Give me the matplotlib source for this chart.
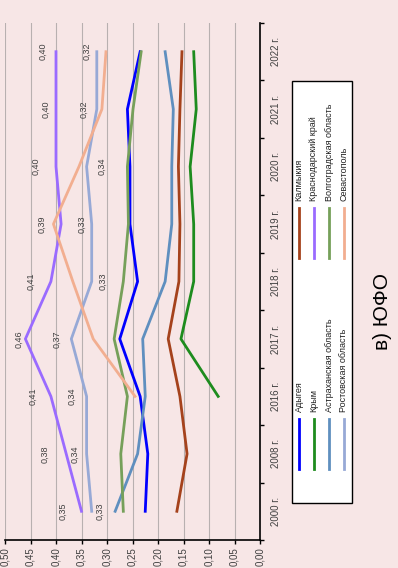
import numpy as np
import matplotlib
matplotlib.use("Agg")
import matplotlib.pyplot as plt
from matplotlib.lines import Line2D
from matplotlib.patches import Rectangle

plt.rcParams['font.family'] = ['Liberation Sans', 'DejaVu Sans']

# data (chart is drawn turned 90 degrees, years run bottom -> top)
years = ['2000 г.', '2008 г.', '2016 г.', '2017 г.', '2018 г.', '2019 г.', '2020 г.', '2021 г.', '2022 г.']
value_ticks = [0.0, 0.05, 0.10, 0.15, 0.20, 0.25, 0.30, 0.35, 0.40, 0.45, 0.50]

adygea = [0.225, 0.22, 0.235, 0.275, 0.24, 0.255, 0.255, 0.26, 0.235]
kalmykia = [0.163, 0.143, 0.157, 0.18, 0.159, 0.157, 0.16, 0.157, 0.153]
krym = [np.nan, np.nan, 0.082, 0.155, 0.13, 0.13, 0.137, 0.125, 0.13]
krasnodar = [0.35, 0.38, 0.41, 0.46, 0.41, 0.39, 0.40, 0.40, 0.40]
astrakhan = [0.284, 0.24, 0.225, 0.23, 0.186, 0.173, 0.173, 0.17, 0.186]
volgograd = [0.268, 0.273, 0.26, 0.286, 0.268, 0.258, 0.26, 0.249, 0.233]
rostov = [0.33, 0.34, 0.34, 0.37, 0.33, 0.33, 0.34, 0.32, 0.32]
sevastopol = [np.nan, np.nan, 0.245, 0.327, 0.367, 0.405, 0.355, 0.31, 0.302]

names = ['Адыгея', 'Калмыкия', 'Крым', 'Краснодарский край',
         'Астраханская область', 'Волгоградская область', 'Ростовская область', 'Севастополь']
series = [adygea, kalmykia, krym, krasnodar, astrakhan, volgograd, rostov, sevastopol]
colors = ['#0000FF', '#A5421C', '#1E8C1E', '#9A6BFF', '#5F8FBF', '#76A05A', '#97A9D6', '#F2AE90']

# label offsets in pixels (left = higher value)
krasnodar_off = [-19, -21, -18, -6, -20, -19, -20, -10, -13]
rostov_off = [8, -12, -15, -14, 11, -10, 15, -13, -10]

W, H = 398, 568
bg = '#F7E6E6'

fig = plt.figure(figsize=(W / 100, H / 100), dpi=100, facecolor=bg)
ax = fig.add_axes([5 / W, 28 / H, 255 / W, 517 / H], facecolor=bg)

pos = np.arange(len(years))
for vals, col in zip(series, colors):
    ax.plot(vals, pos, color=col, lw=2.0, solid_joinstyle='round', zorder=3)

for v, p, o in zip(krasnodar, pos, krasnodar_off):
    ax.annotate(f'{v:.2f}'.replace('.', ','), (v, p), xytext=(o, 0), textcoords='offset pixels',
                rotation=90, ha='center', va='center', fontsize=6.5, color='#404040', zorder=4)
for v, p, o in zip(rostov, pos, rostov_off):
    ax.annotate(f'{v:.2f}'.replace('.', ','), (v, p), xytext=(o, 0), textcoords='offset pixels',
                rotation=90, ha='center', va='center', fontsize=6.5, color='#404040', zorder=4)

ax.set_xlim(0.5, 0.0)
ax.set_ylim(-0.5, len(years) - 0.5)
ax.set_xticks(value_ticks)
ax.set_xticklabels([f'{t:.2f}'.replace('.', ',') for t in value_ticks], rotation=90, fontsize=7, color='#404040')
ax.grid(axis='x', color='#B8B0B0', lw=0.8, zorder=0)
ax.set_axisbelow(True)

ax.yaxis.tick_right()
ax.set_yticks(pos)
ax.set_yticklabels(years, rotation=90, va='center', fontsize=7, color='#404040')
ax.set_yticks(np.arange(-0.5, len(years), 1.0), minor=True)
ax.tick_params(axis='y', which='major', length=0, pad=8)
ax.tick_params(axis='y', which='minor', length=3, width=1, color='black', direction='out')
ax.tick_params(axis='x', length=3, width=1, color='black', pad=2)

for s in ['top', 'left']:
    ax.spines[s].set_visible(False)
for s in ['bottom', 'right']:
    ax.spines[s].set_color('black')
    ax.spines[s].set_linewidth(1.2)


def fx(x):
    return x / W


def fy(y):
    return 1 - y / H


# legend, drawn turned like the rest
fig.patches.append(Rectangle((fx(292), fy(503)), fx(352) - fx(292), fy(81) - fy(503),
                             transform=fig.transFigure, facecolor='white', edgecolor='black', lw=1.0))
row_x = [299, 314, 329, 344]
col_y = [(469, 419, 412), (258, 208, 201)]
for i, (name, col) in enumerate(zip(names, colors)):
    r, c = i // 2, i % 2
    y0, y1, yt = col_y[c]
    fig.lines.append(Line2D([fx(row_x[r])] * 2, [fy(y0), fy(y1)], transform=fig.transFigure, color=col, lw=2.0))
    fig.text(fx(row_x[r]), fy(yt), name, rotation=90, ha='center', va='bottom', fontsize=6.5, color='#202020')

fig.text(fx(382), fy(311), 'в) ЮФО', rotation=90, ha='center', va='center', fontsize=15, color='black')

fig.savefig('out.png', dpi=100, facecolor=bg)
